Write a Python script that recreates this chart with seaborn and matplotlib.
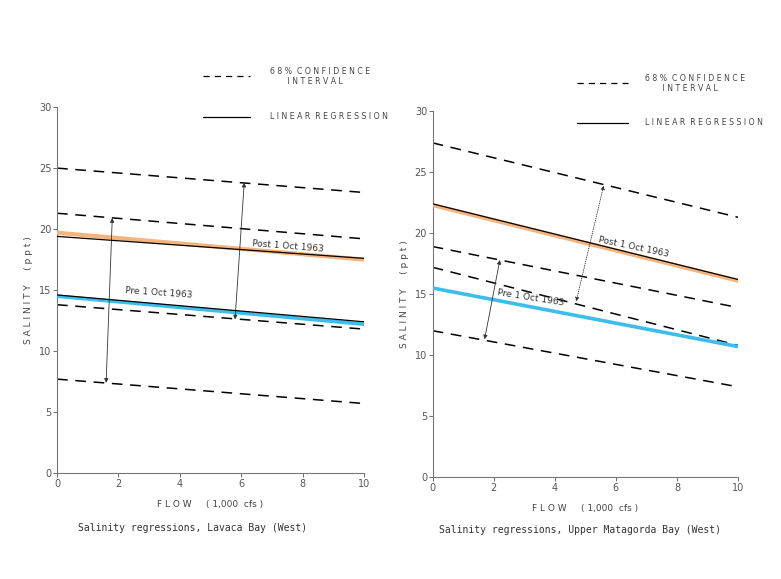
import pandas as pd
import numpy as np
import matplotlib
matplotlib.use("Agg")
import matplotlib.pyplot as plt
from matplotlib.lines import Line2D
import seaborn as sns

# Flow (1,000 cfs) at both ends of every regression line
flow = [0, 10]

# Lavaca Bay (West)
lav_post_reg = [19.4, 17.6]
lav_post_hi = [19.7, 17.5]
lav_pre_reg = [14.6, 12.4]
lav_pre_hi = [14.5, 12.2]
lav_ci = [[25.0, 23.0], [21.3, 19.2], [13.8, 11.8], [7.7, 5.7]]
lav_arrows = [[(1.8, 20.9), (1.6, 7.4)], [(6.1, 23.8), (5.8, 12.6)]]

# Upper Matagorda Bay (West)
mat_post_reg = [22.4, 16.2]
mat_post_hi = [22.3, 16.1]
mat_pre_reg = [15.5, 10.7]
mat_pre_hi = [15.5, 10.7]
mat_ci = [[27.4, 21.3], [18.9, 13.9], [17.2, 10.8], [12.0, 7.4]]
mat_arrows = [[(2.2, 17.8), (1.7, 11.3)], [(5.6, 23.9), (4.7, 14.4)]]

x_ticks = [0, 2, 4, 6, 8, 10]
y_ticks = [0, 5, 10, 15, 20, 25, 30]

orange = "#f6b47c"
blue = "#3cbdec"
grey = "#555555"

sns.set_theme(style="white")
plt.rcParams["font.family"] = ["DejaVu Sans"]

fig = plt.figure(figsize=(7.81, 5.79), dpi=100)
ax1 = fig.add_axes([0.073, 0.183, 0.393, 0.632])
ax2 = fig.add_axes([0.554, 0.176, 0.391, 0.632])


def draw_panel(ax, post_reg, post_hi, pre_reg, pre_hi, ci, arrows, post_lab, pre_lab,
               arrow2_style, pre_black_z):
    for vals in ci:
        d = pd.DataFrame({"flow": flow, "sal": vals})
        sns.lineplot(data=d, x="flow", y="sal", ax=ax, color="black", lw=1.1,
                     linestyle=(0, (7, 5)))
    sns.lineplot(data=pd.DataFrame({"flow": flow, "sal": post_hi}), x="flow", y="sal",
                 ax=ax, color=orange, lw=3.0, zorder=3)
    sns.lineplot(data=pd.DataFrame({"flow": flow, "sal": pre_hi}), x="flow", y="sal",
                 ax=ax, color=blue, lw=2.6, zorder=3)
    sns.lineplot(data=pd.DataFrame({"flow": flow, "sal": post_reg}), x="flow", y="sal",
                 ax=ax, color="black", lw=0.9, zorder=4)
    sns.lineplot(data=pd.DataFrame({"flow": flow, "sal": pre_reg}), x="flow", y="sal",
                 ax=ax, color="black", lw=0.9, zorder=pre_black_z)
    styles = ["-", arrow2_style]
    for (top, bot), ls in zip(arrows, styles):
        ax.annotate("", xy=top, xytext=bot,
                    arrowprops=dict(arrowstyle="<|-|>", color="#333333", lw=0.6,
                                    ls=ls, mutation_scale=6, shrinkA=0, shrinkB=0))
    ax.text(post_lab[0], post_lab[1], "Post 1 Oct 1963", fontsize=6.5, color="#333333",
            rotation=post_lab[2], rotation_mode="anchor")
    ax.text(pre_lab[0], pre_lab[1], "Pre 1 Oct 1963", fontsize=6.5, color="#333333",
            rotation=pre_lab[2], rotation_mode="anchor")

    ax.set_xlim(0, 10)
    ax.set_ylim(0, 30)
    ax.set_xticks(x_ticks)
    ax.set_yticks(y_ticks)
    ax.set_xticklabels([str(t) for t in x_ticks])
    ax.set_yticklabels([str(t) for t in y_ticks])
    ax.tick_params(axis="both", labelsize=7, colors=grey, length=3, width=0.6,
                   direction="out", pad=1)
    ax.tick_params(axis="x", bottom=True)
    ax.tick_params(axis="y", left=True)
    sns.despine(ax=ax)
    for s in ["left", "bottom"]:
        ax.spines[s].set_color("#777777")
        ax.spines[s].set_linewidth(0.8)
    ax.set_ylabel("S A L I N I T Y     ( p p t )", fontsize=6.5, color="#444444", labelpad=4)
    ax.set_xlabel("F L O W     ( 1,000  cfs )", fontsize=6.5, color="#444444", labelpad=8)


draw_panel(ax1, lav_post_reg, lav_post_hi, lav_pre_reg, lav_pre_hi, lav_ci, lav_arrows,
           (6.35, 18.6, -4.5), (2.2, 14.8, -4.0), "-", 4)
draw_panel(ax2, mat_post_reg, mat_post_hi, mat_pre_reg, mat_pre_hi, mat_ci, mat_arrows,
           (5.4, 19.3, -12.0), (2.1, 14.9, -9.0), ":", 2)

# legend keys drawn at the top of each panel
for x0, x1, xt, y_d, y_s in [(0.260, 0.320, 0.346, 0.868, 0.798),
                             (0.739, 0.804, 0.826, 0.856, 0.788)]:
    fig.add_artist(Line2D([x0, x1], [y_d, y_d], transform=fig.transFigure,
                          color="black", lw=0.9, linestyle=(0, (5, 4))))
    fig.add_artist(Line2D([x0, x1], [y_s, y_s], transform=fig.transFigure,
                          color="black", lw=0.9))
    fig.text(xt, y_d, "6 8 %  C O N F I D E N C E\n       I N T E R V A L",
             fontsize=5.6, color="#444444", va="center", ha="left", linespacing=1.1)
    fig.text(xt, y_s, "L I N E A R  R E G R E S S I O N", fontsize=5.6,
             color="#444444", va="center", ha="left")

fig.text(0.246, 0.088, "Salinity regressions, Lavaca Bay (West)", fontsize=7,
         family="DejaVu Sans Mono", color="#333333", ha="center", va="center")
fig.text(0.743, 0.085, "Salinity regressions, Upper Matagorda Bay (West)", fontsize=7,
         family="DejaVu Sans Mono", color="#333333", ha="center", va="center")

fig.savefig("out.png", dpi=100)
